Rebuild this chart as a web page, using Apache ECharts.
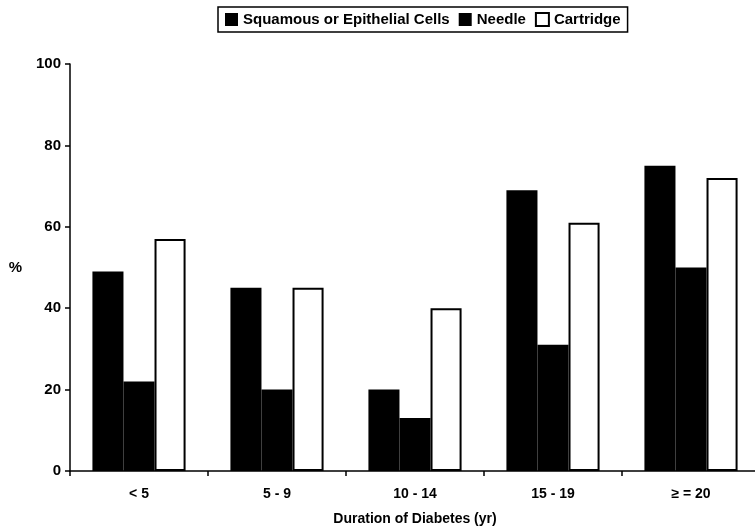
<!DOCTYPE html>
<html><head><meta charset="utf-8">
<script src="https://cdn.jsdelivr.net/npm/echarts@6/dist/echarts.min.js"></script>
<style>html,body{margin:0;padding:0;background:#fff}#c{width:755px;height:528px}</style>
</head><body><div id="c"></div>
<script>
const categories = ['< 5', '5 - 9', '10 - 14', '15 - 19', '\u2265 = 20'];
const squamous = [49, 45, 20, 69, 75];
const needle = [22, 20, 13, 31, 50];
const cartridge = [57, 45, 40, 61, 72];
const yTicks = [0, 20, 40, 60, 80, 100];

const font = 'Liberation Sans, Arial, sans-serif';
const chart = echarts.init(document.getElementById('c'));
chart.setOption({
  backgroundColor: '#fff',
  animation: false,
  textStyle: { fontFamily: font, color: '#000', fontWeight: 'bold' },
  legend: {
    left: 218, top: 7,
    padding: [5, 7, 5, 7],
    borderColor: '#000', borderWidth: 1.5,
    itemWidth: 13, itemHeight: 13, itemGap: 9,
    icon: 'rect',
    textStyle: { fontFamily: font, fontSize: 15, fontWeight: 'bold', color: '#000', padding: [0, 0, 0, 0] },
    data: ['Squamous or Epithelial Cells', 'Needle', 'Cartridge']
  },
  grid: { left: 70, right: -5, top: 64, bottom: 57, outerBoundsMode: 'none', containLabel: false },
  xAxis: {
    type: 'category', data: categories,
    name: 'Duration of Diabetes (yr)', nameLocation: 'middle', nameGap: 41,
    nameTextStyle: { fontFamily: font, fontSize: 14, fontWeight: 'bold', color: '#000' },
    axisLine: { lineStyle: { color: '#000', width: 1.5 } },
    axisTick: { show: true, length: 5, lineStyle: { color: '#000', width: 1.5 } },
    axisLabel: { fontFamily: font, fontSize: 14, fontWeight: 'bold', color: '#000', margin: 16 }
  },
  yAxis: {
    type: 'value', min: yTicks[0], max: yTicks[yTicks.length - 1], interval: 20,
    name: '%', nameLocation: 'middle', nameGap: 48, nameRotate: 0,
    nameTextStyle: { fontFamily: font, fontSize: 15, fontWeight: 'bold', color: '#000' },
    axisLine: { show: true, lineStyle: { color: '#000', width: 1.5 } },
    axisTick: { show: true, length: 5, lineStyle: { color: '#000', width: 1.5 } },
    axisLabel: { fontFamily: font, fontSize: 15, fontWeight: 'bold', color: '#000', margin: 9 },
    splitLine: { show: false }
  },
  series: [
    { name: 'Squamous or Epithelial Cells', type: 'bar', data: squamous, barGap: '0%', barCategoryGap: '32.5%',
      itemStyle: { color: '#000' } },
    { name: 'Needle', type: 'bar', data: needle,
      itemStyle: { color: '#000' } },
    { name: 'Cartridge', type: 'bar', data: cartridge,
      itemStyle: { color: '#fff', borderColor: '#000', borderWidth: 2 } }
  ]
});
</script></body></html>
